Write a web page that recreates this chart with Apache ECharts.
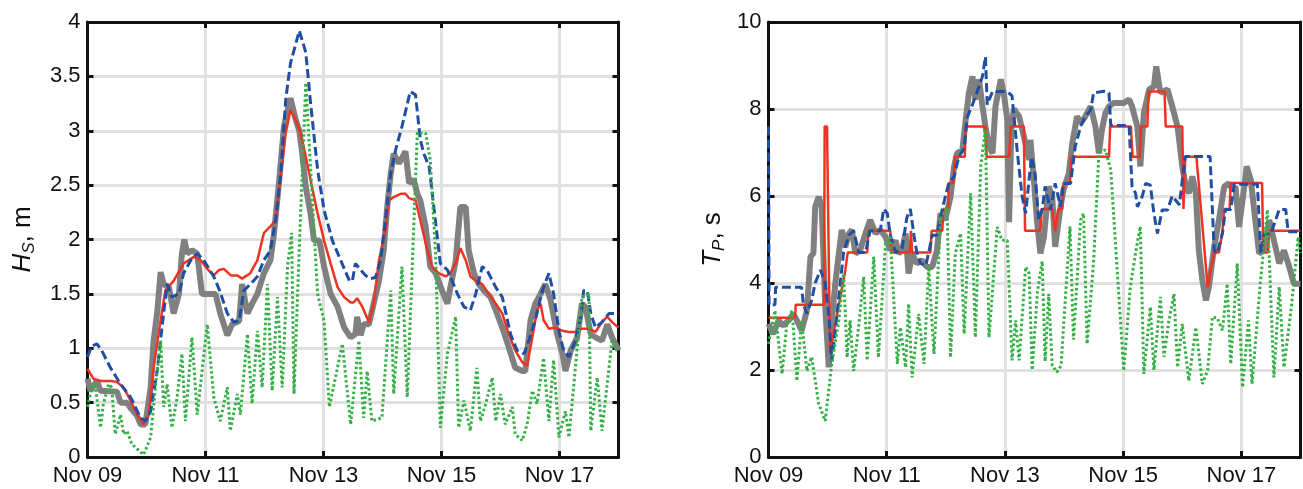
<!DOCTYPE html>
<html>
<head>
<meta charset="utf-8">
<script src="https://cdn.jsdelivr.net/npm/echarts@6/dist/echarts.min.js"></script>
<style>
html,body{margin:0;padding:0;background:#fff;}
#chart{width:1303px;height:489px;}
</style>
</head>
<body>
<div id="chart"></div>
<script>
// x values are days since Nov 09 00:00
const dayTicks = [0, 2, 4, 6, 8];
const dayLabels = ['Nov 09', 'Nov 11', 'Nov 13', 'Nov 15', 'Nov 17'];

// ---- Significant wave height Hs (m) ----
const hsMeasured = [[0.00,0.72],[0.05,0.61],[0.16,0.70],[0.22,0.61],[0.50,0.60],[0.56,0.50],[0.67,0.50],[0.73,0.45],[0.84,0.38],[0.90,0.30],[0.98,0.30],[1.07,0.64],[1.12,1.07],[1.18,1.32],[1.24,1.70],[1.29,1.59],[1.38,1.56],[1.46,1.32],[1.55,1.50],[1.60,1.87],[1.64,2.00],[1.69,1.87],[1.77,1.90],[1.86,1.87],[1.94,1.50],[2.17,1.50],[2.25,1.32],[2.37,1.12],[2.45,1.22],[2.57,1.25],[2.62,1.59],[2.71,1.32],[2.79,1.41],[2.88,1.50],[2.99,1.69],[3.10,1.81],[3.16,2.05],[3.25,2.55],[3.33,3.04],[3.44,3.30],[3.53,3.10],[3.59,3.00],[3.64,2.79],[3.70,2.48],[3.78,2.24],[3.84,1.99],[3.93,1.99],[4.01,1.75],[4.12,1.50],[4.24,1.38],[4.35,1.19],[4.46,1.10],[4.54,1.13],[4.57,1.29],[4.63,1.12],[4.68,1.22],[4.77,1.22],[4.85,1.41],[4.94,1.62],[5.02,1.90],[5.08,2.30],[5.14,2.61],[5.19,2.79],[5.28,2.70],[5.39,2.81],[5.45,2.52],[5.53,2.55],[5.59,2.42],[5.64,2.36],[5.73,2.12],[5.81,1.75],[5.90,1.69],[6.01,1.53],[6.10,1.41],[6.15,1.56],[6.24,1.80],[6.32,2.30],[6.41,2.30],[6.46,1.90],[6.55,1.69],[6.63,1.59],[6.72,1.53],[6.83,1.47],[6.92,1.35],[7.03,1.19],[7.14,1.01],[7.25,0.82],[7.37,0.79],[7.42,0.79],[7.51,1.26],[7.59,1.41],[7.68,1.50],[7.76,1.59],[7.85,1.44],[7.96,1.13],[8.05,0.95],[8.10,0.79],[8.19,0.98],[8.30,1.10],[8.38,1.41],[8.44,1.38],[8.53,1.13],[8.61,1.10],[8.72,1.07],[8.81,1.22],[8.89,1.10],[9.00,0.98]];
const hsModelRed = [[0.00,0.81],[0.10,0.72],[0.22,0.70],[0.39,0.70],[0.50,0.69],[0.61,0.64],[0.73,0.52],[0.84,0.39],[0.95,0.30],[1.04,0.39],[1.12,0.82],[1.24,1.26],[1.32,1.53],[1.46,1.62],[1.63,1.78],[1.80,1.84],[1.92,1.81],[2.03,1.73],[2.14,1.67],[2.23,1.72],[2.31,1.73],[2.43,1.67],[2.54,1.67],[2.62,1.64],[2.76,1.69],[2.88,1.81],[2.99,2.06],[3.10,2.12],[3.19,2.18],[3.28,2.61],[3.36,2.98],[3.44,3.19],[3.53,3.10],[3.61,2.98],[3.70,2.76],[3.78,2.55],[3.90,2.24],[4.01,1.99],[4.12,1.78],[4.24,1.56],[4.35,1.47],[4.46,1.42],[4.51,1.42],[4.57,1.46],[4.66,1.38],[4.77,1.24],[4.85,1.41],[4.94,1.81],[5.05,2.09],[5.11,2.36],[5.19,2.39],[5.31,2.42],[5.39,2.42],[5.45,2.38],[5.56,2.36],[5.64,2.18],[5.76,1.90],[5.84,1.75],[5.95,1.69],[6.07,1.66],[6.15,1.69],[6.24,1.78],[6.32,1.92],[6.41,1.81],[6.49,1.66],[6.58,1.62],[6.69,1.59],[6.80,1.50],[6.92,1.41],[7.03,1.32],[7.14,1.13],[7.25,0.98],[7.37,0.87],[7.45,0.84],[7.54,1.10],[7.62,1.35],[7.68,1.41],[7.73,1.26],[7.82,1.18],[7.93,1.19],[8.05,1.16],[8.16,1.15],[8.27,1.15],[8.38,1.18],[8.50,1.18],[8.61,1.15],[8.72,1.24],[8.81,1.29],[8.89,1.24],[9.00,1.19]];
const hsModelBlue = [[0.00,0.92],[0.07,1.02],[0.16,1.04],[0.24,0.98],[0.39,0.82],[0.56,0.67],[0.73,0.55],[0.90,0.36],[0.98,0.33],[1.07,0.42],[1.18,0.79],[1.29,1.32],[1.35,1.59],[1.43,1.47],[1.55,1.50],[1.63,1.69],[1.75,1.81],[1.86,1.87],[1.97,1.81],[2.14,1.66],[2.24,1.53],[2.37,1.32],[2.48,1.24],[2.57,1.25],[2.65,1.53],[2.76,1.59],[2.88,1.66],[2.99,1.81],[3.10,1.90],[3.19,2.18],[3.28,2.64],[3.36,3.29],[3.44,3.62],[3.59,3.92],[3.70,3.72],[3.78,3.26],[3.90,2.64],[4.01,2.27],[4.15,1.99],[4.29,1.81],[4.44,1.62],[4.49,1.62],[4.54,1.78],[4.63,1.72],[4.71,1.67],[4.80,1.64],[4.88,1.65],[4.97,1.81],[5.05,2.18],[5.14,2.61],[5.22,2.82],[5.33,3.04],[5.47,3.36],[5.56,3.33],[5.64,2.92],[5.70,2.79],[5.79,2.67],[5.87,2.30],[5.98,1.78],[6.10,1.72],[6.18,1.62],[6.27,1.50],[6.38,1.38],[6.49,1.35],[6.58,1.50],[6.69,1.75],[6.77,1.72],[6.92,1.56],[7.03,1.47],[7.08,1.35],[7.17,1.13],[7.28,0.98],[7.40,0.95],[7.48,1.07],[7.59,1.26],[7.71,1.53],[7.82,1.69],[7.90,1.50],[7.99,1.16],[8.07,0.98],[8.16,0.92],[8.27,1.07],[8.36,1.29],[8.41,1.53],[8.47,1.53],[8.53,1.32],[8.61,1.19],[8.72,1.24],[8.84,1.32],[8.92,1.32],[9.00,1.32]];
const hsModelGreen = [[0.00,0.46],[0.07,0.64],[0.13,0.67],[0.22,0.27],[0.27,0.49],[0.36,0.67],[0.41,0.64],[0.47,0.21],[0.56,0.39],[0.61,0.21],[0.67,0.24],[0.75,0.12],[0.95,0.02],[1.07,0.18],[1.15,0.64],[1.24,1.07],[1.29,0.46],[1.35,0.67],[1.43,0.27],[1.52,0.55],[1.60,0.95],[1.66,0.33],[1.77,1.10],[1.86,0.39],[2.03,1.22],[2.14,0.55],[2.25,0.33],[2.37,0.64],[2.42,0.24],[2.54,0.58],[2.59,0.39],[2.71,1.13],[2.79,0.49],[2.88,1.16],[2.96,0.64],[3.05,1.59],[3.13,0.61],[3.22,1.47],[3.30,0.64],[3.39,1.75],[3.46,2.06],[3.50,0.58],[3.59,1.93],[3.70,3.44],[3.90,1.50],[4.01,1.25],[4.10,0.46],[4.32,1.04],[4.46,0.30],[4.60,1.07],[4.68,0.36],[4.74,0.79],[4.82,0.33],[4.99,0.36],[5.14,1.53],[5.19,0.58],[5.33,1.75],[5.42,0.55],[5.59,2.98],[5.73,2.98],[5.81,2.73],[5.90,1.87],[5.98,0.27],[6.10,0.95],[6.24,1.29],[6.29,0.27],[6.38,0.52],[6.49,0.24],[6.60,0.82],[6.66,0.33],[6.75,0.49],[6.86,0.73],[6.92,0.33],[7.00,0.58],[7.08,0.30],[7.20,0.46],[7.25,0.21],[7.37,0.15],[7.45,0.30],[7.54,0.61],[7.62,0.49],[7.73,0.91],[7.82,0.33],[7.90,0.89],[7.99,0.18],[8.10,0.42],[8.16,0.18],[8.38,1.47],[8.50,1.50],[8.53,0.24],[8.64,0.73],[8.72,0.24],[8.89,1.07],[9.00,0.97]];

// ---- Peak wave period Tp (s) ----
const tpMeasured = [[0.00,3.06],[0.08,2.83],[0.17,3.14],[0.25,3.02],[0.34,3.14],[0.42,3.29],[0.48,3.14],[0.56,2.91],[0.65,3.37],[0.71,4.60],[0.76,4.68],[0.79,5.75],[0.85,5.98],[0.90,5.75],[0.96,3.45],[1.02,2.06],[1.07,3.14],[1.13,3.98],[1.19,4.68],[1.24,5.22],[1.30,4.83],[1.36,5.14],[1.41,5.22],[1.47,4.68],[1.55,4.75],[1.64,5.14],[1.72,5.45],[1.81,5.14],[1.89,5.22],[1.98,5.06],[2.06,4.75],[2.15,4.98],[2.20,4.68],[2.26,4.75],[2.32,5.14],[2.37,4.22],[2.43,4.68],[2.51,4.45],[2.60,4.52],[2.68,4.37],[2.77,4.37],[2.85,4.75],[2.91,5.60],[2.99,5.45],[3.08,5.98],[3.14,6.68],[3.19,6.98],[3.28,7.06],[3.33,7.68],[3.39,8.37],[3.45,8.75],[3.50,8.22],[3.56,8.68],[3.62,8.06],[3.67,7.60],[3.73,7.14],[3.79,6.98],[3.84,8.06],[3.93,8.68],[3.98,8.37],[4.04,7.75],[4.07,5.40],[4.11,7.60],[4.15,8.00],[4.24,7.83],[4.32,7.37],[4.41,6.83],[4.43,7.29],[4.49,6.37],[4.54,5.45],[4.60,4.68],[4.66,5.06],[4.74,6.22],[4.80,5.98],[4.85,4.83],[4.94,5.75],[4.99,6.14],[5.08,6.52],[5.14,7.22],[5.22,7.83],[5.28,7.68],[5.36,7.83],[5.45,8.06],[5.53,7.60],[5.59,6.98],[5.64,7.52],[5.70,7.91],[5.76,8.06],[5.84,8.14],[5.93,8.14],[6.01,8.14],[6.10,8.22],[6.15,8.06],[6.24,7.60],[6.29,6.68],[6.35,7.91],[6.44,8.45],[6.52,8.52],[6.56,8.98],[6.63,8.37],[6.75,8.45],[6.83,8.06],[6.92,7.60],[7.00,6.68],[7.06,6.22],[7.11,6.06],[7.17,6.45],[7.23,6.06],[7.28,4.75],[7.34,4.06],[7.40,3.60],[7.45,3.91],[7.54,4.83],[7.62,5.45],[7.71,6.22],[7.79,6.29],[7.85,6.14],[7.90,6.22],[7.96,5.29],[8.05,6.22],[8.09,6.68],[8.16,6.37],[8.21,5.75],[8.30,4.68],[8.38,4.75],[8.47,5.45],[8.55,4.98],[8.64,4.45],[8.72,4.75],[8.81,4.37],[8.89,3.98],[9.00,3.98]];
const tpModelRed = [[0.00,3.2],[0.45,3.2],[0.46,3.5],[0.94,3.5],[0.95,7.6],[0.99,7.6],[1.04,2.4],[1.30,4.3],[1.34,4.7],[1.67,4.7],[1.69,5.2],[2.06,5.2],[2.08,4.7],[2.39,4.7],[2.41,5.2],[2.43,4.7],[2.74,4.7],[2.76,5.2],[2.94,5.2],[2.96,5.7],[3.04,5.7],[3.05,6.3],[3.13,6.3],[3.15,6.9],[3.32,6.9],[3.34,7.6],[3.67,7.6],[3.69,6.9],[4.07,6.9],[4.10,7.6],[4.32,7.6],[4.34,5.2],[4.60,5.2],[4.62,5.7],[4.80,5.7],[4.85,5.2],[4.90,5.7],[4.97,5.7],[4.99,6.3],[5.10,6.3],[5.12,6.9],[5.76,6.9],[5.78,7.6],[6.13,7.6],[6.16,6.9],[6.28,6.9],[6.30,7.6],[6.41,7.6],[6.43,8.4],[6.70,8.4],[6.72,7.6],[7.00,7.6],[7.02,5.7],[7.05,6.9],[7.24,6.9],[7.43,3.9],[7.48,4.3],[7.54,4.7],[7.62,4.7],[7.68,5.2],[7.71,5.7],[7.80,5.7],[7.82,6.3],[8.35,6.3],[8.37,4.7],[8.45,4.7],[8.47,5.2],[9.00,5.2]];
const tpModelBlue = [[0.00,7.6],[0.01,3.5],[0.11,3.5],[0.12,3.9],[0.56,3.9],[0.59,3.5],[0.65,3.3],[0.73,3.6],[0.79,4.0],[0.88,4.3],[0.96,4.0],[1.03,3.1],[1.07,2.2],[1.13,2.9],[1.19,3.7],[1.27,4.7],[1.36,5.1],[1.44,5.2],[1.53,4.7],[1.64,4.7],[1.72,5.2],[1.89,5.2],[1.95,5.7],[2.01,5.6],[2.06,5.1],[2.15,4.7],[2.26,4.8],[2.34,5.5],[2.40,5.7],[2.46,5.1],[2.51,4.7],[2.57,4.45],[2.66,4.4],[2.71,4.7],[2.77,5.1],[2.85,5.1],[2.94,5.7],[3.05,6.3],[3.14,6.45],[3.22,6.9],[3.31,7.1],[3.36,7.8],[3.45,8.1],[3.53,8.4],[3.62,8.75],[3.67,9.2],[3.70,8.1],[3.79,8.4],[3.87,8.4],[4.04,8.4],[4.12,8.3],[4.21,7.0],[4.29,6.0],[4.35,5.6],[4.41,6.4],[4.45,6.9],[4.51,6.5],[4.57,5.45],[4.63,5.68],[4.68,6.22],[4.77,5.68],[4.85,6.29],[4.94,5.75],[4.99,6.29],[5.11,6.29],[5.19,7.14],[5.28,7.6],[5.36,7.83],[5.45,7.98],[5.50,8.37],[5.67,8.41],[5.76,8.37],[5.79,7.62],[6.10,7.62],[6.15,6.22],[6.21,6.06],[6.24,5.75],[6.32,5.98],[6.38,6.29],[6.46,6.25],[6.52,5.6],[6.58,5.14],[6.66,5.68],[6.75,5.68],[6.83,6.0],[6.95,5.8],[7.05,6.91],[7.47,6.91],[7.54,4.75],[7.59,4.68],[7.68,5.14],[7.73,5.69],[7.82,5.69],[7.88,6.27],[8.27,6.27],[8.33,4.68],[8.38,5.14],[8.50,5.14],[8.64,5.69],[8.75,5.69],[8.79,5.18],[9.00,5.18]];
const tpModelGreen = [[0.00,2.6],[0.11,3.37],[0.23,1.91],[0.31,3.06],[0.40,3.37],[0.48,1.75],[0.56,3.14],[0.65,1.98],[0.73,2.3],[0.85,1.22],[0.96,0.83],[1.07,2.14],[1.19,3.14],[1.27,4.22],[1.33,2.29],[1.38,3.14],[1.44,1.98],[1.53,3.06],[1.61,4.14],[1.67,2.22],[1.78,4.60],[1.86,2.29],[1.98,4.91],[2.06,5.06],[2.18,2.14],[2.23,2.98],[2.32,2.06],[2.37,3.52],[2.43,1.83],[2.54,3.29],[2.63,2.14],[2.71,4.37],[2.80,2.37],[2.91,5.45],[3.02,5.75],[3.08,2.29],[3.16,4.68],[3.25,5.14],[3.31,2.83],[3.42,6.06],[3.50,2.75],[3.59,6.68],[3.67,7.52],[3.73,2.75],[3.87,5.29],[3.95,4.98],[4.04,4.98],[4.12,2.22],[4.18,3.14],[4.24,2.22],[4.35,4.37],[4.41,4.22],[4.46,2.0],[4.55,3.8],[4.63,4.5],[4.68,2.2],[4.74,3.75],[4.80,2.1],[4.88,1.95],[4.95,2.1],[5.10,5.3],[5.16,2.7],[5.28,5.45],[5.33,5.6],[5.39,2.6],[5.50,4.5],[5.59,7.0],[5.70,7.06],[5.79,6.6],[5.88,4.7],[6.01,1.98],[6.12,3.9],[6.21,4.7],[6.29,5.3],[6.35,1.91],[6.46,3.45],[6.52,2.0],[6.63,3.68],[6.69,2.3],[6.77,3.1],[6.86,3.75],[6.92,2.06],[7.00,3.06],[7.11,1.75],[7.23,2.98],[7.34,1.68],[7.43,2.0],[7.51,3.22],[7.59,3.2],[7.68,2.91],[7.76,3.98],[7.82,2.14],[7.93,4.45],[8.02,1.6],[8.12,3.14],[8.18,1.68],[8.32,4.0],[8.44,5.68],[8.55,1.83],[8.64,3.91],[8.72,2.06],[8.85,3.5],[8.96,5.06],[9.00,4.69]];

const FONT = 'Liberation Sans, Arial, Helvetica, sans-serif';
const BLACK = '#111111';
const GRIDC = '#e0e0e0';

function xAxes(gridIndex) {
  const common = {
    type: 'value', gridIndex: gridIndex, min: 0, max: 9, interval: 2,
    axisLine: { show: true, onZero: false, lineStyle: { color: BLACK, width: 3 } },
    axisTick: { show: true, inside: true, length: 6, lineStyle: { color: BLACK, width: 3 } }
  };
  return [
    Object.assign({}, common, {
      position: 'bottom',
      splitLine: { show: true, lineStyle: { color: GRIDC, width: 3 } },
      axisLabel: {
        show: true, margin: 8, color: BLACK, fontSize: 22, fontFamily: FONT, showMaxLabel: false,
        formatter: function (v) { const i = dayTicks.indexOf(v); return i >= 0 ? dayLabels[i] : ''; }
      }
    }),
    Object.assign({}, common, {
      position: 'top', splitLine: { show: false }, axisLabel: { show: false }
    })
  ];
}

function yAxes(gridIndex, max, interval, name, rich, gap) {
  const common = {
    type: 'value', gridIndex: gridIndex, min: 0, max: max, interval: interval,
    axisLine: { show: true, onZero: false, lineStyle: { color: BLACK, width: 3 } },
    axisTick: { show: true, inside: true, length: 6, lineStyle: { color: BLACK, width: 3 } }
  };
  return [
    Object.assign({}, common, {
      position: 'left',
      name: name, nameLocation: 'middle', nameRotate: 90, nameGap: gap,
      nameTextStyle: { rich: rich },
      splitLine: { show: true, lineStyle: { color: GRIDC, width: 3 } },
      axisLabel: { show: true, margin: 7, color: BLACK, fontSize: 22, fontFamily: FONT }
    }),
    Object.assign({}, common, {
      position: 'right', splitLine: { show: false }, axisLabel: { show: false }
    })
  ];
}

function richName() {
  return {
    i: { fontStyle: 'italic', fontSize: 26, fontFamily: FONT, color: BLACK, lineHeight: 30, verticalAlign: 'middle' },
    s: { fontStyle: 'italic', fontSize: 17, fontFamily: FONT, color: BLACK, lineHeight: 12, verticalAlign: 'bottom' },
    n: { fontSize: 26, fontFamily: FONT, color: BLACK, lineHeight: 30, verticalAlign: 'middle' }
  };
}

function series(xi, yi, obs, red, blue, green) {
  const base = { type: 'line', xAxisIndex: xi, yAxisIndex: yi, showSymbol: false, symbol: 'none', animation: false };
  return [
    Object.assign({}, base, { data: obs, z: 2, lineStyle: { color: '#808080', width: 6 } }),
    Object.assign({}, base, { data: red, z: 3, lineStyle: { color: '#ee3322', width: 2.5 } }),
    Object.assign({}, base, { data: blue, z: 4, lineStyle: { color: '#1f4ea3', width: 3, type: [9, 4] } }),
    Object.assign({}, base, { data: green, z: 5, lineStyle: { color: '#34b045', width: 3, type: [2.5, 2.5] } })
  ];
}

const chart = echarts.init(document.getElementById('chart'), null, { renderer: 'canvas' });
chart.setOption({
  animation: false,
  backgroundColor: '#ffffff',
  grid: [
    { left: 87.5, top: 22, width: 531, height: 435, containLabel: false },
    { left: 768.5, top: 22, width: 532, height: 435, containLabel: false }
  ],
  xAxis: xAxes(0).concat(xAxes(1)),
  yAxis: yAxes(0, 4, 0.5, '{i|H}{s|S}{n|, m}', richName(), 50)
    .concat(yAxes(1, 10, 2, '{i|T}{s|P}{n|, s}', richName(), 41)),
  series: series(0, 0, hsMeasured, hsModelRed, hsModelBlue, hsModelGreen)
    .concat(series(2, 2, tpMeasured, tpModelRed, tpModelBlue, tpModelGreen))
});
</script>
</body>
</html>
